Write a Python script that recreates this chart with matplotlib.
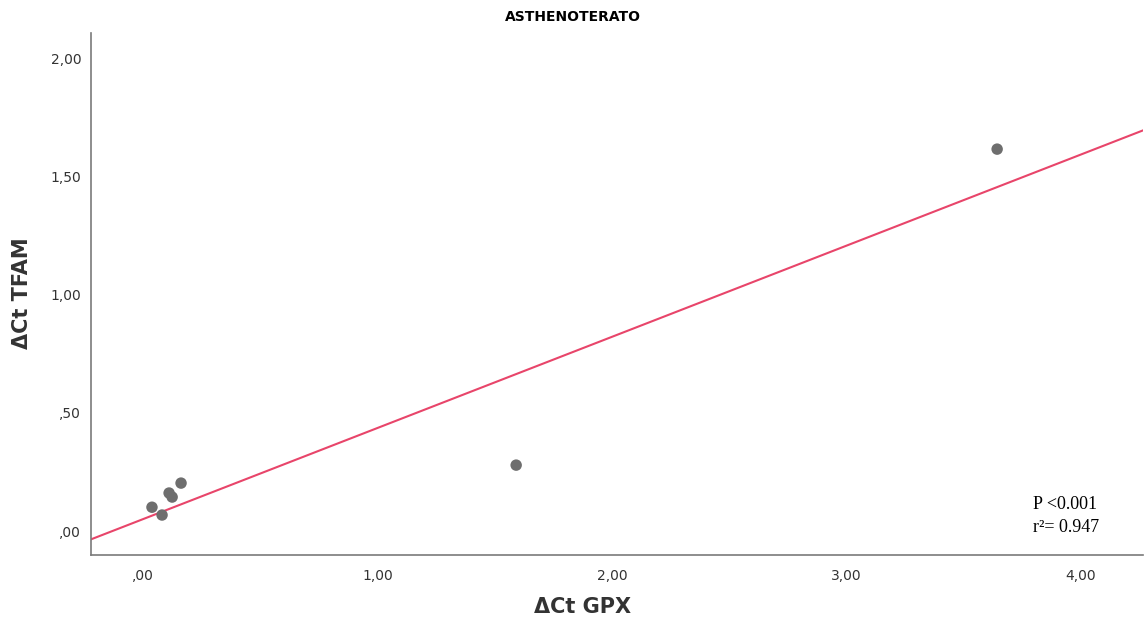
import numpy as np
import matplotlib
matplotlib.use("Agg")
import matplotlib.pyplot as plt

# Data
gpx = [0.162, 0.111, 0.124, 0.038, 0.081, 1.591, 3.642]
tfam = [0.203, 0.161, 0.144, 0.101, 0.068, 0.279, 1.615]
x_ticks = [0, 1, 2, 3, 4]
x_ticklabels = [",00", "1,00", "2,00", "3,00", "4,00"]
y_ticks = [0, 0.5, 1.0, 1.5, 2.0]
y_ticklabels = [",00", ",50", "1,00", "1,50", "2,00"]
title = "ASTHENOTERATO"
xlabel = "ΔCt GPX"
ylabel = "ΔCt TFAM"
stats_text = "P <0.001\nr²= 0.947"

fig = plt.figure(figsize=(11.45, 6.26), dpi=100)
ax = fig.add_axes([91/1145, 1-555/626, (1143-91)/1145, (555-33)/626])

xlim = (-0.222, 4.264)
ylim = (-0.101, 2.106)
ax.set_xlim(*xlim)
ax.set_ylim(*ylim)

# Regression line
slope, intercept = np.polyfit(gpx, tfam, 1)
xs = np.array(xlim)
ax.plot(xs, slope * xs + intercept, color="#E8456A", lw=1.5, zorder=2)

ax.scatter(gpx, tfam, s=68, color="#6e6e6e", edgecolors="none", zorder=3)

for s in ["top", "right"]:
    ax.spines[s].set_visible(False)
for s in ["left", "bottom"]:
    ax.spines[s].set_color("#7a7a7a")
    ax.spines[s].set_linewidth(1.2)

ax.set_xticks(x_ticks)
ax.set_xticklabels(x_ticklabels)
ax.set_yticks(y_ticks)
ax.set_yticklabels(y_ticklabels)
ax.tick_params(axis="both", length=0, labelsize=10, labelcolor="#333333")
ax.tick_params(axis="x", pad=10)
ax.tick_params(axis="y", pad=7)

fig.text(0.5, 1-17/626, title, ha="center", va="center", fontsize=10,
         fontweight="bold", family="DejaVu Sans")
fig.text(583/1145, 1-607/626, xlabel, ha="center", va="center", fontsize=15,
         fontweight="bold", color="#333333")
fig.text(22/1145, 1-293/626, ylabel, ha="center", va="center", fontsize=15,
         fontweight="bold", rotation=90, color="#333333")

fig.text(1033/1145, 1-516/626, stats_text, ha="left", va="center", fontsize=13,
         family="Liberation Serif", linespacing=1.45)

fig.savefig("out.png", dpi=100)
